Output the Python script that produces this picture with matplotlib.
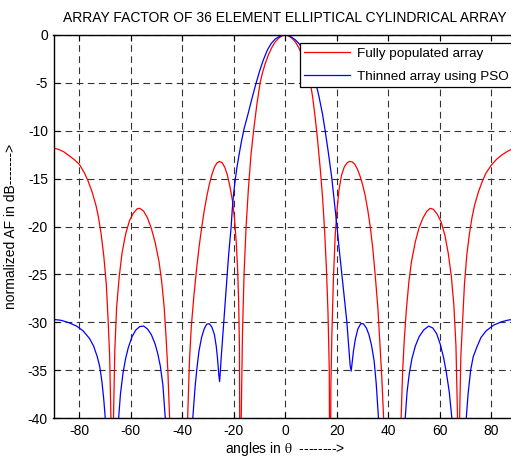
#!/usr/bin/env python
import matplotlib
matplotlib.use('Agg')
import matplotlib.pyplot as plt

# fully populated array (angle in deg, normalized AF in dB)
full_theta = [-90, -88, -86, -84, -82, -80, -78, -76.5, -75, -73.5, -72.5,
              -71.5, -70.5, -69.5, -68.8, -68.2, -67.7, -67.2, -66.7, -66.2,
              -65.5, -64.5, -63.4, -62, -60.5, -59, -57.5, -56.5, -55, -53.5,
              -52, -50.5, -49, -48, -47, -46.3, -45.6, -44.9, -41.5, -37.9,
              -37.2, -36.5, -35.5, -34.5, -33.5, -32.5, -31.5, -30.5, -29.5,
              -28.5, -27.5, -26.5, -25.5, -24.5, -23.5, -22.5, -21.5, -20.5,
              -19.7, -19, -18.5, -18.1, -17.8, -17.4, -17.1, -16.6, -16,
              -15.2, -14.3, -13.3, -12.3, -11, -9.7, -8.8, -7.8, -6.5, -5.2,
              -4, -2.6, -1.3, 0,
              1.3, 2.6, 4, 5.2, 6.5, 7.8, 8.8, 9.7, 10.7, 11.7, 12.5, 13.6,
              14.5, 15.3, 16, 16.6, 17.1, 17.4, 17.7, 18.1, 18.7, 19.4, 20.1,
              20.9, 21.9, 22.9, 24, 25, 26, 27, 28, 29, 30, 31, 32, 33, 34, 35,
              36, 36.8, 37.5, 38.2, 41.6, 45, 45.6, 46.3, 47, 48, 49, 50.5, 52,
              53.5, 55, 56.3, 57.5, 59, 60.5, 62, 63.3, 64.5, 65.5, 66.3, 66.9,
              67.3, 67.7, 68.2, 68.9, 69.6, 70.5, 71.5, 72.5, 73.5, 75, 76.5,
              78, 80, 82, 84, 86, 88, 90]
full_db = [-11.8, -11.95, -12.2, -12.6, -13.0, -13.5, -14.4, -15.3, -16.4,
           -17.8, -19.1, -20.8, -23, -26, -29.7, -33.5, -40, -60, -40, -33,
           -28.5, -25.3, -22.8, -20.8, -19.4, -18.6, -18.15, -18.1, -18.4,
           -19.1, -20.2, -21.7, -23.7, -25.7, -28.5, -31.5, -35, -40, -65, -40,
           -34, -30.5, -27.3, -24.6, -22.2, -20.2, -18.4, -16.9, -15.6,
           -14.6, -13.8, -13.35, -13.2, -13.35, -13.8, -14.6, -15.8, -17.3,
           -19.2, -21.8, -24.5, -27.8, -32.5, -60, -40, -31, -25,
           -20, -16, -12.5, -10, -7.2, -4.9, -3.9, -3.0, -2.05, -1.3,
           -0.75, -0.35, -0.09, 0,
           -0.09, -0.35, -0.75, -1.3, -2.05, -2.9, -3.9, -4.9, -6.6, -8.8,
           -10.8, -14, -17, -20.5, -24.5, -29, -35, -60, -37, -31.3, -25.5,
           -20.9, -18.3, -16.1, -14.6, -13.8, -13.35, -13.2, -13.25, -13.5,
           -14, -14.7, -15.6, -16.7, -18.2, -20, -22.3, -25.3, -28.6, -32.5,
           -35.8, -40, -65, -40, -35, -31.5, -28.8, -25.8, -23.7, -21.6, -20.1,
           -19.1, -18.4, -18.1, -18.2, -18.7, -19.5, -20.9, -22.8, -25.2,
           -28.3, -32.5, -40, -60, -40, -33.5, -29.7, -26, -23, -20.8, -19.1,
           -17.8, -16.4, -15.3, -14.4, -13.6, -13.0, -12.55, -12.2, -11.9,
           -11.75]

# thinned array using PSO
pso_theta = [-90, -87, -84, -81, -78.5, -76, -74.4, -73, -72, -71.2, -70.5,
             -69.9, -67.3, -64.7, -64, -63, -62, -61, -59.5, -58, -56.5, -55,
             -53.5, -52, -50.5, -49.5, -48.5, -47.5, -46.6, -41.3, -35.9, -35,
             -34.3, -33.5, -32.5, -31.5, -30.5, -29.5, -28.5, -27.5, -26.8,
             -26.3, -25.8, -25.5, -25.3, -24.9, -24.5, -24, -23.3, -22.7, -22,
             -21.5, -21, -20.6, -20.1, -19.5, -18.8, -18, -17, -16, -14.5, -13,
             -11.5, -10, -8.5, -7, -5.5, -4, -2.6, -1.3, 0,
             1.3, 2.6, 3.9, 5.5, 7, 8.5, 10, 11.5, 13, 14.5, 15.5, 16.8, 18.1,
             19.1, 20.1, 21, 22, 23, 23.9, 24.6, 25.2, 25.6, 26, 26.5, 27.2,
             28.2, 29.3, 30.3, 31.5, 32.5, 33.5, 34.5, 35.3, 36.2, 41.4, 46.6,
             47.3, 48.2, 49.2, 50.5, 52, 53.8, 55.7, 57.3, 58.8, 60.2, 61.5,
             62.6, 63.7, 64.7, 67.5, 70.3, 71, 72, 73, 74.4, 76, 78, 80.9, 84,
             87, 90]
pso_db = [-29.7, -29.8, -30.05, -30.4, -30.9, -31.7, -32.5, -33.6, -34.7,
          -36.2, -38, -40, -65, -40, -37.5, -35.3, -33.8, -32.7, -31.5, -30.8,
          -30.45, -30.4, -30.7, -31.3, -32.3, -33.3, -34.6, -36.6, -40, -65,
          -40, -36.7, -34.8, -33, -31.6, -30.7, -30.2, -30.15, -30.5, -31.3,
          -32.5, -33.8, -35.5, -36.2, -35.5, -33.8, -32.3, -30.5, -27.8,
          -25.5, -23, -21.5, -20, -18.3, -16.7, -15.3, -13.9, -12.6, -11.1,
          -9.8, -8.3, -6.7, -5.2, -3.8, -2.6, -1.6, -0.9, -0.45, -0.2, -0.05, 0,
          -0.07, -0.25, -0.5, -0.95, -1.6, -2.45, -3.5, -4.6, -6.3, -8.3, -10,
          -12.4, -15, -17.5, -20, -22.5, -25, -27.6, -29.9, -32.3, -34.5,
          -35.1, -34.2, -33, -31.8, -30.7, -30.15, -30.15, -30.6, -31.3, -32.4,
          -34, -36.3, -40, -65, -40, -37.3, -35.3, -33.8, -32.5, -31.5, -30.8,
          -30.4, -30.6, -31.2, -32.3, -33.7, -35.3, -37.3, -40, -65, -40,
          -37.5, -35, -33.6, -32.6, -31.6, -30.9, -30.3, -29.95, -29.75, -29.7]

W, H = 511, 457
plt.rcParams['font.family'] = ['Liberation Sans', 'DejaVu Sans']
plt.rcParams['axes.unicode_minus'] = False
plt.rcParams['mathtext.fontset'] = 'stix'

fig = plt.figure(figsize=(W / 100, H / 100), dpi=100)
# the right edge of the axes runs just past the picture, as in the original
ax = fig.add_axes([53.5 / W, (H - 418) / H, (517 - 53.5) / W, (418 - 35) / H])

ax.plot(full_theta, full_db, color='red', linewidth=0.9,
        label='Fully populated array')
ax.plot(pso_theta, pso_db, color='blue', linewidth=0.9,
        label='Thinned array using PSO')

ax.set_xlim(-90, 90)
ax.set_ylim(-40, 0)
ax.set_xticks(range(-80, 81, 20))
ax.set_yticks(range(-40, 1, 5))
ax.grid(True, color='0.2', linestyle=(0, (6, 4)), linewidth=0.8)
ax.tick_params(direction='in', top=True, right=True, length=4,
               labelsize=10, pad=4)
for sp in ax.spines.values():
    sp.set_linewidth(1.0)

ax.set_title('ARRAY FACTOR OF 36 ELEMENT ELLIPTICAL CYLINDRICAL ARRAY',
             fontsize=10, pad=9)
ax.set_xlabel(r'angles in $\mathrm{\theta}$  -------->', fontsize=10,
              labelpad=2)
ax.set_ylabel('normalized AF in dB------->', fontsize=10, labelpad=7)

leg = ax.legend(loc='upper right', bbox_to_anchor=(513.5 / W, 1 - 43 / H),
                bbox_transform=fig.transFigure, borderaxespad=0,
                fontsize=9.7, handlelength=3.4, handletextpad=0.5,
                labelspacing=0.75, borderpad=0.35, fancybox=False,
                framealpha=1)
leg.get_frame().set_edgecolor('k')
leg.get_frame().set_linewidth(0.9)

fig.savefig('out.png', dpi=100)
